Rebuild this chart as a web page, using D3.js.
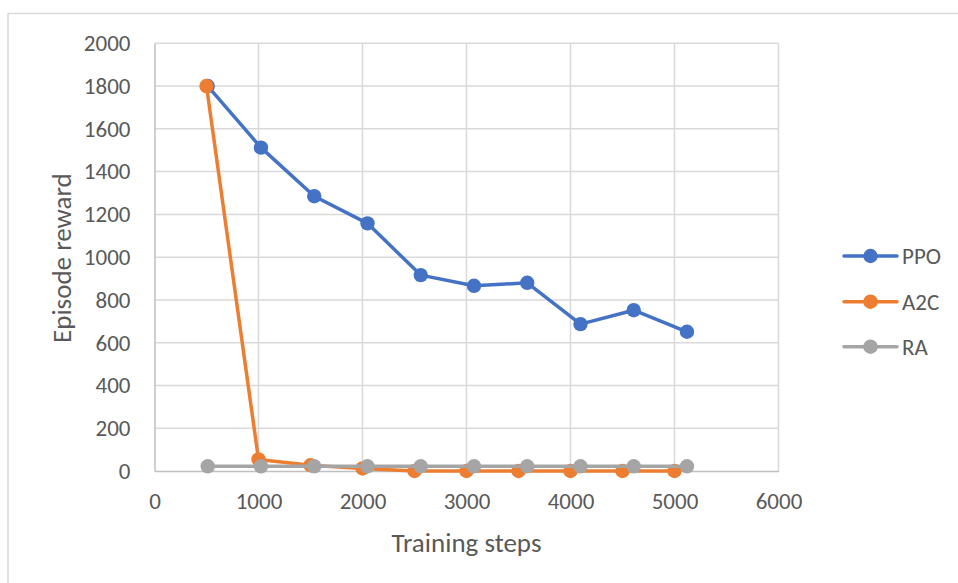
<!DOCTYPE html>
<html>
<head>
<meta charset="utf-8">
<script src="https://cdn.jsdelivr.net/npm/d3@7"></script>
<style>
  html, body { margin: 0; padding: 0; background: #fff; }
  svg { display: block; }
  text { font-family: Carlito, Calibri, Lato, "Liberation Sans", sans-serif; fill: #595959; }
</style>
</head>
<body>
<svg id="chart" width="958" height="583"></svg>
<script>
// Training-step positions and episode rewards for each agent
const ppoSteps = [512, 1024, 1536, 2048, 2560, 3072, 3584, 4096, 4608, 5120];
const ppoReward = [1800, 1512, 1285, 1158, 916, 866, 880, 687, 752, 651];
const a2cSteps = [500, 1000, 1500, 2000, 2500, 3000, 3500, 4000, 4500, 5000];
const a2cReward = [1800, 54, 27, 12, 0, 0, 0, 0, 0, 0];
const raSteps = [512, 1024, 1536, 2048, 2560, 3072, 3584, 4096, 4608, 5120];
const raReward = [22, 22, 22, 22, 22, 22, 22, 22, 22, 22];

const seriesNames = ["PPO", "A2C", "RA"];
const seriesColors = ["#4472C4", "#ED7D31", "#A5A5A5"];
const xTicks = [0, 1000, 2000, 3000, 4000, 5000, 6000];
const yTicks = [0, 200, 400, 600, 800, 1000, 1200, 1400, 1600, 1800, 2000];

const series = [
  { name: seriesNames[0], color: seriesColors[0], pts: ppoSteps.map((s, i) => [s, ppoReward[i]]) },
  { name: seriesNames[1], color: seriesColors[1], pts: a2cSteps.map((s, i) => [s, a2cReward[i]]) },
  { name: seriesNames[2], color: seriesColors[2], pts: raSteps.map((s, i) => [s, raReward[i]]) }
];

const svg = d3.select("#chart");

// outer chart frame
svg.append("rect")
  .attr("x", 8).attr("y", 13.5)
  .attr("width", 980).attr("height", 620)
  .attr("fill", "none").attr("stroke", "#d9d9d9").attr("stroke-width", 1.5);

const plot = { left: 154.5, right: 778.5, top: 43.3, bottom: 471 };

const x = d3.scaleLinear().domain([0, 6000]).range([plot.left, plot.right]);
const y = d3.scaleLinear().domain([0, 2000]).range([plot.bottom, plot.top]);

// horizontal gridlines
svg.append("g").selectAll("line").data(yTicks.filter(d => d > 0)).join("line")
  .attr("x1", plot.left).attr("x2", plot.right)
  .attr("y1", d => y(d)).attr("y2", d => y(d))
  .attr("stroke", "#d9d9d9").attr("stroke-width", 1.5);

// vertical gridlines
svg.append("g").selectAll("line").data(xTicks.filter(d => d > 0)).join("line")
  .attr("x1", d => x(d)).attr("x2", d => x(d))
  .attr("y1", plot.top).attr("y2", plot.bottom)
  .attr("stroke", "#d9d9d9").attr("stroke-width", 1.5);

// axes
const xAxis = svg.append("g")
  .attr("transform", `translate(0,${plot.bottom})`)
  .call(d3.axisBottom(x).tickValues(xTicks).tickSize(0).tickPadding(22).tickFormat(d3.format("d")));
xAxis.select(".domain").attr("stroke", "#bfbfbf").attr("stroke-width", 1.5);
xAxis.selectAll("text").style("font-size", "23px").attr("fill", "#595959");

const yAxis = svg.append("g")
  .attr("transform", `translate(${plot.left},0)`)
  .call(d3.axisLeft(y).tickValues(yTicks).tickSize(0).tickPadding(24).tickFormat(d3.format("d")));
yAxis.select(".domain").attr("stroke", "#bfbfbf").attr("stroke-width", 1.5);
yAxis.selectAll("text").style("font-size", "23px").attr("fill", "#595959");

// axis titles
svg.append("text")
  .attr("x", x(3000)).attr("y", 552)
  .attr("text-anchor", "middle")
  .style("font-size", "27px")
  .text("Training steps");

svg.append("text")
  .attr("transform", `translate(71,${(plot.top + plot.bottom) / 2 + 1}) rotate(-90)`)
  .attr("text-anchor", "middle")
  .style("font-size", "27px")
  .text("Episode reward");

// series lines and markers
const line = d3.line().x(d => x(d[0])).y(d => y(d[1]));
series.forEach(s => {
  const g = svg.append("g");
  g.append("path")
    .attr("d", line(s.pts))
    .attr("fill", "none").attr("stroke", s.color)
    .attr("stroke-width", 3.5).attr("stroke-linejoin", "round");
  g.selectAll("circle").data(s.pts).join("circle")
    .attr("cx", d => x(d[0])).attr("cy", d => y(d[1]))
    .attr("r", 7.2).attr("fill", s.color);
});

// legend
const legendY = [256, 301.7, 346.7];
series.forEach((s, i) => {
  const g = svg.append("g").attr("transform", `translate(0,${legendY[i]})`);
  g.append("line").attr("x1", 844).attr("x2", 897).attr("y1", 0).attr("y2", 0)
    .attr("stroke", s.color).attr("stroke-width", 3.5).attr("stroke-linecap", "round");
  g.append("circle").attr("cx", 870.5).attr("cy", 0).attr("r", 7.2).attr("fill", s.color);
  g.append("text").attr("x", 902).attr("y", 0).attr("dy", "0.35em")
    .style("font-size", "23px").text(s.name);
});
</script>
</body>
</html>
